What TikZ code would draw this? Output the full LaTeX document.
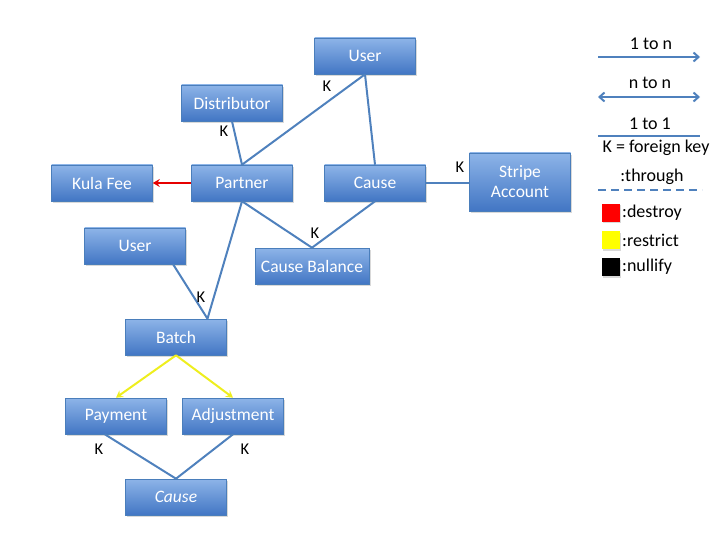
\documentclass[tikz,border=0pt]{standalone}
\usepackage{fontspec}
\setmainfont{Carlito}
\usetikzlibrary{arrows.meta,shadows,calc}
\definecolor{boxtop}{RGB}{141,180,232}
\definecolor{boxbot}{RGB}{66,118,196}
\definecolor{boxline}{RGB}{74,126,187}
\definecolor{link}{RGB}{79,129,189}
\definecolor{redarr}{RGB}{230,0,0}
\definecolor{yelarr}{RGB}{238,238,30}
\definecolor{sqred}{RGB}{255,0,0}
\definecolor{sqyel}{RGB}{255,255,0}
\begin{document}
\begin{tikzpicture}[x=1pt,y=-1pt,
  ent/.style={draw=boxline, line width=0.6pt, top color=boxtop, bottom color=boxbot,
    text=white, minimum width=101pt, minimum height=36pt, inner sep=0pt,
    font=\fontsize{17.5}{20}\selectfont,
    drop shadow={shadow xshift=1.5pt, shadow yshift=-2pt, opacity=0.3}},
  rel/.style={draw=link, line width=2pt},
  klab/.style={font=\fontsize{16.5}{18}\selectfont, inner sep=0pt},
  leg/.style={font=\fontsize{18}{20}\selectfont, inner sep=0pt},
  tip/.style={-{Stealth[length=7pt,width=8pt,inset=2.5pt]}},
  barb/.style={-{Straight Barb[length=5pt,width=9pt]}},
  sq/.style={minimum width=18pt, minimum height=18pt, inner sep=0pt,
    drop shadow={shadow xshift=1pt, shadow yshift=-1.5pt, opacity=0.3}},
]
\useasboundingbox (0,0) rectangle (720,540);

% entities
\node[ent] (user1) at (365,56) {User};
\node[ent] (dist) at (232,103) {Distributor};
\node[ent] (kula) at (102,183) {Kula Fee};
\node[ent] (partner) at (242,183) {Partner};
\node[ent] (cause) at (375,183) {Cause};
\node[ent, minimum height=58pt, align=center] (stripe) at (520,182) {Stripe\\Account};
\node[ent] (user2) at (135,246) {User};
\node[ent, minimum width=114pt] (cb) at (312,266) {Cause Balance};
\node[ent] (batch) at (176,337) {Batch};
\node[ent] (pay) at (116,416) {Payment};
\node[ent] (adj) at (233,416) {Adjustment};
\node[ent] (cause2) at (176,497) {\itshape Cause};

% junction points
\coordinate (bj) at ($(batch.north)!0.62!(batch.north east)$);
\coordinate (u2s) at ($(user2.south)!0.75!(user2.south east)$);
\coordinate (pays) at ($(pay.south)!0.22!(pay.south west)$);

% connectors
\draw[rel] (dist.south) -- (partner.north);
\draw[rel] (user1.south) -- (partner.north);
\draw[rel] (user1.south) -- (cause.north);
\draw[rel] (cause.east) -- (stripe.west |- cause.east);
\draw[rel] (partner.south) -- (cb.north);
\draw[rel] (cause.south) -- (cb.north);
\draw[rel] (partner.south) -- (bj);
\draw[rel] (u2s) -- (bj);
\draw[rel] (pays) -- (cause2.north);
\draw[rel] (adj.south) -- (cause2.north);
\draw[draw=redarr, line width=2pt, tip] (partner.west) -- (kula.east);
\draw[draw=yelarr, line width=2pt, tip] (batch.south) -- (pay.north);
\draw[draw=yelarr, line width=2pt, tip] (batch.south) -- (adj.north);

% K labels
\node[klab] (k1) at (224,131) {K};
\node[klab] (k2) at (327,86) {K};
\node[klab] (k3) at (460,167) {K};
\node[klab] (k4) at (315,233) {K};
\node[klab] (k5) at (201,297) {K};
\node[klab] (k6) at (99,449) {K};
\node[klab] (k7) at (245,449) {K};

% legend
\node[leg] (t1) at (651,44) {1 to n};
\coordinate (l1a) at (598,57); \coordinate (l1b) at (700,57);
\draw[rel, barb] (l1a) -- (l1b);
\node[leg] (t2) at (650,83) {n to n};
\coordinate (l2a) at (598,97); \coordinate (l2b) at (700,97);
\draw[rel, {Straight Barb[length=5pt,width=9pt]}-{Straight Barb[length=5pt,width=9pt]}] (l2a) -- (l2b);
\node[leg] (t3) at (650,124) {1 to 1};
\coordinate (l3a) at (598,136); \coordinate (l3b) at (700,136);
\draw[rel] (l3a) -- (l3b);
\node[leg] (t4) at (656,148) {K = foreign key};
\node[leg] (t5) at (652,177) {:through};
\coordinate (l5a) at (598,190); \coordinate (l5b) at (702,190);
\draw[rel, dash pattern=on 8pt off 5pt] (l5a) -- (l5b);
\node[sq, fill=sqred] (s1) at (611,213) {};
\node[leg, anchor=west] (d1) at (622,213) {:destroy};
\node[sq, fill=sqyel] (s2) at (611,240) {};
\node[leg, anchor=west] (d2) at (622,240) {:restrict};
\node[sq, fill=black] (s3) at (611,267) {};
\node[leg, anchor=west] (d3) at (622,267) {:nullify};
\end{tikzpicture}
\end{document}
